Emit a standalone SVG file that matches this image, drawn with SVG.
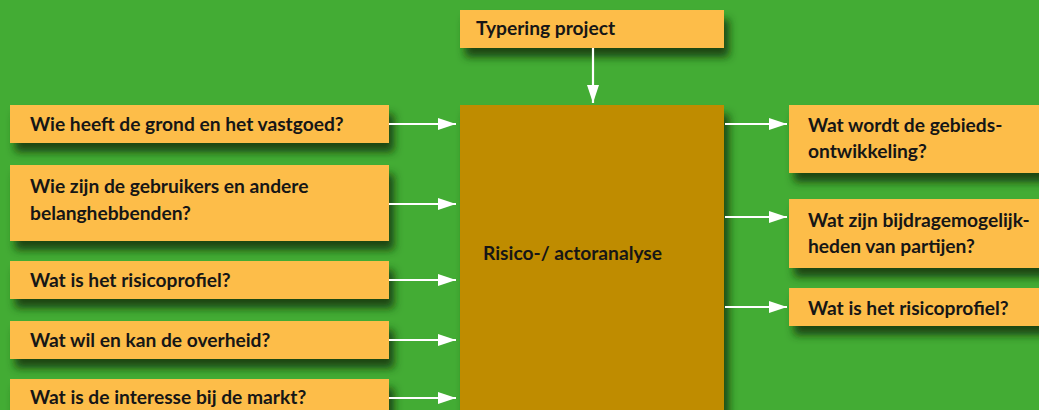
<svg xmlns="http://www.w3.org/2000/svg" width="1039" height="410" viewBox="0 0 1039 410">
<defs>
<filter id="sh" x="-10%" y="-30%" width="130%" height="180%">
<feDropShadow dx="5" dy="9" stdDeviation="4.5" flood-color="#123a0c" flood-opacity="0.9"/>
</filter>
<marker id="ah" markerWidth="18" markerHeight="12" refX="18" refY="6" orient="auto" markerUnits="userSpaceOnUse">
<path d="M0,0 L18,6 L0,12 Z" fill="#ffffff"/>
</marker>
<style>
.box{fill:#FDBD49;filter:url(#sh);}
.core{fill:#BF8C00;filter:url(#sh);}
text{font-family:"Lato","Liberation Sans",sans-serif;font-weight:bold;font-size:19.2px;fill:#161616;}
.conn line{stroke:#ffffff;stroke-width:2.2;marker-end:url(#ah);}
</style>
</defs>
<rect width="1039" height="410" fill="#43AC34"/>
<g id="typering"><rect class="box" x="460" y="10" width="264" height="38"/><text x="476" y="35">Typering project</text></g>
<g id="analyse"><rect class="core" x="460" y="105" width="264" height="320"/><text x="483" y="260">Risico-/ actoranalyse</text></g>
<g id="l1"><rect class="box" x="10" y="105" width="379" height="38"/><text x="30" y="131">Wie heeft de grond en het vastgoed?</text></g>
<g id="l2"><rect class="box" x="10" y="165" width="379" height="76"/><text x="30" y="193">Wie zijn de gebruikers en andere</text><text x="30" y="220">belanghebbenden?</text></g>
<g id="l3"><rect class="box" x="10" y="261" width="379" height="38"/><text x="30" y="287">Wat is het risicoprofiel?</text></g>
<g id="l4"><rect class="box" x="10" y="321" width="379" height="38"/><text x="30" y="347">Wat wil en kan de overheid?</text></g>
<g id="l5"><rect class="box" x="10" y="379" width="379" height="45"/><text x="30" y="404">Wat is de interesse bij de markt?</text></g>
<g id="r1"><rect class="box" x="789" y="105" width="270" height="68"/><text x="808" y="132">Wat wordt de gebieds-</text><text x="808" y="158">ontwikkeling?</text></g>
<g id="r2"><rect class="box" x="789" y="199" width="270" height="69"/><text x="808" y="227">Wat zijn bijdragemogelijk-</text><text x="808" y="253">heden van partijen?</text></g>
<g id="r3"><rect class="box" x="789" y="288" width="270" height="38"/><text x="808" y="315">Wat is het risicoprofiel?</text></g>
<g id="connectors" class="conn">
<line x1="593" y1="48" x2="593" y2="103"/>
<line x1="389" y1="124" x2="456" y2="124"/>
<line x1="389" y1="204" x2="456" y2="204"/>
<line x1="389" y1="280" x2="456" y2="280"/>
<line x1="389" y1="340" x2="456" y2="340"/>
<line x1="389" y1="398" x2="456" y2="398"/>
<line x1="725" y1="124" x2="787" y2="124"/>
<line x1="725" y1="217" x2="787" y2="217"/>
<line x1="725" y1="307" x2="787" y2="307"/>
</g>
</svg>
